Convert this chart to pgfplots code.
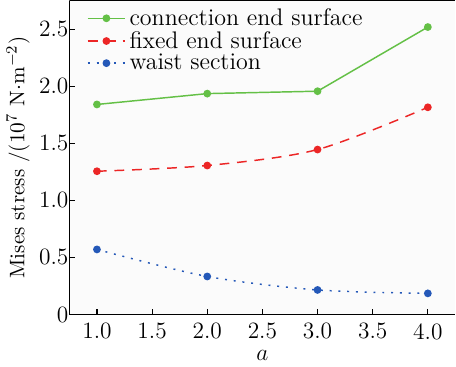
\documentclass[border=0pt]{standalone}
\usepackage{pgfplots}
\pgfplotsset{compat=1.18}
\definecolor{cgreen}{RGB}{100,192,70}
\definecolor{cred}{RGB}{236,38,38}
\definecolor{cblue}{RGB}{36,88,184}
\begin{document}
\begin{tikzpicture}
\begin{axis}[
  scale only axis, width=198pt, height=161pt,
  xmin=0.75, xmax=4.25, ymin=0, ymax=2.75,
  axis x line*=bottom, axis y line*=left,
  axis line style={-, line width=0.6pt},
  xtick={1,1.5,...,4}, ytick={0,0.5,1,1.5,2,2.5},
  xticklabels={1.0,1.5,2.0,2.5,3.0,3.5,4.0},
  yticklabels={0,0.5,1.0,1.5,2.0,2.5},
  tick label style={font=\fontsize{12}{14}\selectfont},
  yticklabel style={xshift=3pt},
  xticklabel style={yshift=-1pt},
  tick align=inside, major tick length=3pt,
  tick style={line width=0.6pt, black},
  xlabel={$a$}, ylabel={Mises stress /($10^7$ N$\cdot$m$^{-2}$)},
  xlabel style={font=\fontsize{12.5}{14}\selectfont, yshift=1.5pt},
  ylabel style={font=\fontsize{10.8}{13}\selectfont, yshift=-2pt},
  axis background/.style={fill=gray!3},
  legend style={draw=none, fill=none, at={(0.04,0.995)}, anchor=north west,
    font=\fontsize{12.3}{13}\selectfont, row sep=-2.5pt, inner sep=1pt},
  legend cell align=left,
  legend image code/.code={\draw[#1] (0pt,0pt) -- (19pt,0pt); \draw[#1,mark repeat=2,mark phase=2] plot coordinates {(0pt,0pt) (9.5pt,0pt) (19pt,0pt)};},
  every axis plot/.append style={line width=0.75pt, mark=*, mark size=1.6pt},
]
\addplot[cgreen, mark options={fill=cgreen, draw=cgreen, solid}] coordinates {(1,1.84) (2,1.935) (3,1.956) (4,2.518)};
\addlegendentry{connection end surface}
\addplot[cred, smooth, dash pattern=on 5pt off 4pt, mark options={fill=cred, draw=cred, solid}] coordinates {(1,1.255) (2,1.305) (3,1.445) (4,1.815)};
\addlegendentry{fixed end surface}
\addplot[cblue, smooth, dash pattern=on 1pt off 3.5pt, mark options={fill=cblue, draw=cblue, solid}] coordinates {(1,0.57) (2,0.333) (3,0.215) (4,0.185)};
\addlegendentry{waist section}
\draw[line width=0.6pt] (rel axis cs:0,1) -- (rel axis cs:1,1);
\end{axis}
\end{tikzpicture}
\end{document}
